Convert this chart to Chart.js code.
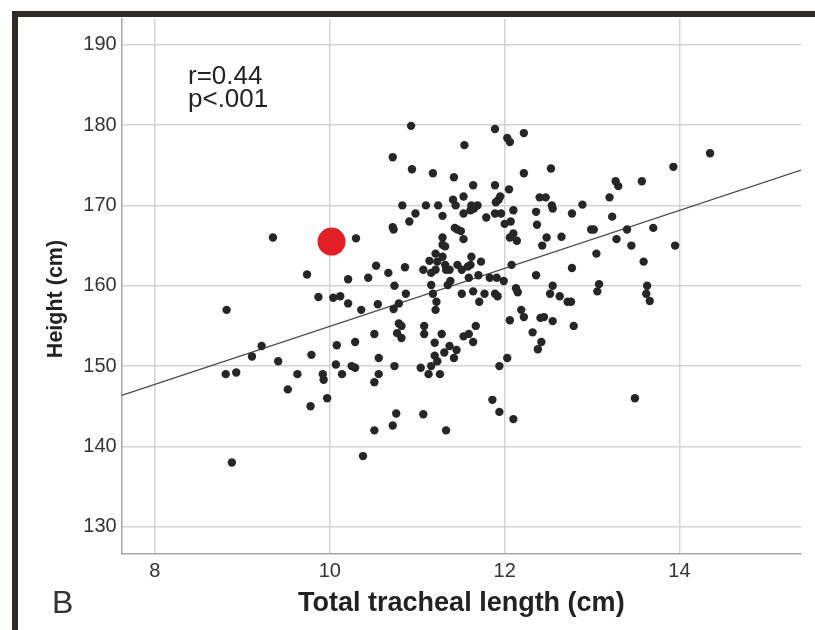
<!DOCTYPE html>
<html>
<head>
<meta charset="utf-8">
<script src="https://cdn.jsdelivr.net/npm/chart.js@4"></script>
<style>
  html, body { margin: 0; padding: 0; background: #ffffff; }
  #wrap { position: relative; width: 815px; height: 630px; overflow: hidden; }
  #frame { position: absolute; left: 12px; top: 11px; width: 900px; height: 700px;
           border-top: 6px solid #2e2a27; border-left: 6px solid #2e2a27; pointer-events: none; }
  canvas { position: absolute; left: 0; top: 0; }
</style>
</head>
<body>
<div id="wrap">
  <canvas id="c" width="815" height="630"></canvas>
  <div id="frame"></div>
</div>
<script>
// ---- data ----
const xTicks = [8, 10, 12, 14];
const yTicks = [130, 140, 150, 160, 170, 180, 190];

const trachealLength = [
  9.35, 9.74, 9.87, 10.04, 10.12, 10.21,
  8.82, 9.22, 9.11, 8.81, 8.93, 9.41, 9.79, 10.08, 10.07, 9.63, 9.92, 9.93, 10.14, 9.52, 9.97, 9.78, 8.88, 10.21,
  10.93, 11.89, 12.03, 12.06, 12.22, 11.54, 10.72, 10.94, 11.18, 11.42, 12.22, 12.53, 11.64, 11.89, 12.05,
  11.41, 11.53, 11.44, 11.93, 11.95, 11.90, 12.40, 12.47, 10.83, 11.10, 11.24, 11.62, 11.69, 11.65, 11.61,
  12.54, 12.55, 12.10, 10.98, 11.29, 11.53, 11.79, 11.89, 11.96, 12.36, 12.77, 10.91, 10.72, 10.73, 11.43,
  11.46, 11.50, 12.07, 12.00, 12.37, 10.30, 11.29, 11.53, 11.29, 11.32, 12.10, 12.06, 12.14, 12.48, 12.65,
  12.43, 11.21, 11.29, 11.62, 10.53, 10.86, 11.14, 11.23, 11.73, 10.67, 11.07, 11.16, 11.21, 11.32, 11.33,
  11.37, 11.46, 11.51, 11.58, 11.61, 12.08, 12.77, 10.44, 10.74, 11.16, 11.38, 11.35, 11.59, 11.70, 11.83,
  11.91, 11.99, 12.36, 12.55, 12.13, 12.15, 10.87, 11.18, 11.51, 11.64, 11.77, 11.89, 11.92, 12.52, 12.63,
  10.55, 10.79, 11.22, 11.71, 12.72, 12.76, 10.36, 10.73, 11.21, 12.06, 12.19, 12.22, 12.41, 12.45, 12.55,
  12.79, 10.79, 10.82, 11.08, 11.67, 10.51, 10.77, 10.82, 11.08, 11.28, 11.53, 11.59, 11.64, 12.32, 12.42,
  12.38, 10.29, 11.20, 11.37, 11.45, 11.31, 11.20, 11.23, 11.42, 10.56, 12.03, 10.25, 10.29, 10.74, 11.04,
  11.16, 11.94, 10.56, 11.13, 11.26, 10.51, 11.86, 11.94, 12.10, 10.76, 11.07, 10.72, 10.51, 11.33, 10.38,
  14.35, 13.93, 13.27, 13.30, 13.57, 13.20, 12.89, 13.23, 12.99, 13.02, 13.40, 13.70, 13.28, 13.45, 13.95,
  13.05, 13.59, 13.08, 13.06, 13.63, 13.62, 13.66, 13.49
];
const height = [
  166.0, 161.4, 158.6, 158.5, 158.7, 160.8,
  157.0, 152.5, 151.2, 149.0, 149.2, 150.6, 151.4, 152.6, 150.2, 149.0, 149.0, 148.3, 149.0, 147.1, 146.0, 145.0, 138.0, 157.8,
  179.9, 179.5, 178.4, 177.9, 179.0, 177.5, 176.0, 174.5, 174.0, 173.5, 174.0, 174.6, 172.5, 172.5, 172.0,
  170.7, 171.1, 170.0, 170.7, 171.1, 170.4, 171.0, 171.0, 170.0, 170.0, 170.0, 170.0, 170.0, 169.6, 169.4,
  170.0, 169.6, 169.4, 169.0, 168.7, 169.0, 168.5, 169.0, 169.0, 169.2, 169.0, 168.0, 167.3, 167.0, 167.2,
  167.0, 166.8, 168.0, 167.7, 167.6, 165.9, 166.0, 165.8, 165.1, 164.9, 166.5, 166.0, 165.6, 166.0, 166.1,
  165.0, 164.0, 163.6, 163.6, 162.5, 162.3, 163.1, 163.0, 163.0, 161.6, 162.0, 161.6, 162.0, 162.6, 162.0,
  162.0, 162.6, 162.0, 162.4, 162.6, 162.6, 162.2, 161.0, 160.0, 160.1, 160.6, 160.1, 161.0, 161.3, 161.0,
  161.0, 160.6, 161.3, 160.0, 159.7, 159.2, 159.0, 159.0, 159.0, 159.3, 159.0, 159.0, 158.7, 159.0, 158.7,
  157.7, 157.8, 158.0, 158.0, 158.0, 158.0, 157.0, 157.1, 157.0, 155.7, 157.0, 156.1, 156.0, 156.1, 155.6,
  155.0, 155.3, 155.0, 155.0, 155.0, 154.0, 154.1, 153.5, 154.0, 154.0, 153.7, 154.0, 153.0, 154.2, 153.0,
  152.1, 153.0, 152.9, 152.5, 152.0, 151.7, 151.3, 150.6, 151.0, 151.0, 151.0, 150.0, 149.8, 150.0, 149.8,
  150.0, 150.0, 149.0, 149.0, 149.0, 148.0, 145.8, 144.3, 143.4, 144.1, 144.0, 142.6, 142.0, 142.0, 138.8,
  176.5, 174.8, 173.0, 172.4, 173.0, 171.0, 170.1, 168.6, 167.0, 167.0, 167.0, 167.2, 165.8, 165.0, 165.0,
  164.0, 163.0, 160.2, 159.3, 160.0, 159.0, 158.1, 146.0
];
const highlightX = [10.02];
const highlightY = [165.5];
const fitX = [7.62, 15.39];
const fitY = [146.35, 174.4];
const statsText = ['r=0.44', 'p<.001'];
const panelLabel = 'B';
const xTitle = 'Total tracheal length (cm)';
const yTitle = 'Height (cm)';

// ---- build chart ----
const toPts = (xs, ys) => xs.map((x, i) => ({ x: x, y: ys[i] }));
const FONT = '"Liberation Sans", Arial, sans-serif';

const annot = {
  id: 'annot',
  afterDraw(chart) {
    const ctx = chart.ctx;
    ctx.save();
    ctx.fillStyle = '#222222';
    ctx.textAlign = 'left';
    ctx.textBaseline = 'alphabetic';
    ctx.font = '26px ' + FONT;
    ctx.fillText(statsText[0], 188, 84);
    ctx.fillText(statsText[1], 188, 107);
    ctx.font = '32px ' + FONT;
    ctx.fillStyle = '#333333';
    ctx.fillText(panelLabel, 52, 613);
    // y axis title (rotated)
    ctx.translate(56, 299);
    ctx.rotate(-Math.PI / 2);
    ctx.textAlign = 'center';
    ctx.textBaseline = 'middle';
    ctx.fillStyle = '#222222';
    ctx.font = 'bold 21.5px ' + FONT;
    ctx.fillText(yTitle, 0, 0);
    ctx.restore();
  }
};

new Chart(document.getElementById('c'), {
  type: 'scatter',
  data: {
    datasets: [
      {
        label: 'highlight',
        data: toPts(highlightX, highlightY),
        backgroundColor: '#e31e24',
        borderWidth: 0,
        pointRadius: 14,
        order: 0
      },
      {
        label: 'subjects',
        data: toPts(trachealLength, height),
        backgroundColor: '#262626',
        borderWidth: 0,
        pointRadius: 4.2,
        order: 1
      },
      {
        type: 'line',
        label: 'fit',
        data: toPts(fitX, fitY),
        borderColor: '#4a4a4a',
        borderWidth: 1.2,
        pointRadius: 0,
        fill: false,
        order: 2
      }
    ]
  },
  options: {
    responsive: false,
    animation: false,
    devicePixelRatio: 1,
    layout: { padding: { top: 19, right: 7.5, left: 0, bottom: 0 } },
    plugins: { legend: { display: false }, tooltip: { enabled: false } },
    scales: {
      x: {
        type: 'linear',
        min: fitX[0],
        max: fitX[1],
        afterBuildTicks: (s) => { s.ticks = xTicks.map(v => ({ value: v })); },
        afterFit: (s) => { s.height = 76.7; },
        grid: { color: '#d3d3d3', lineWidth: 1.5, drawTicks: false },
        border: { display: true, color: '#a6a6a6', width: 1.5 },
        ticks: { color: '#333333', font: { family: FONT, size: 20 }, padding: 6 },
        title: { display: true, text: xTitle, color: '#222222',
                 font: { family: FONT, size: 27, weight: 'bold' }, padding: { top: 0, bottom: 10 } }
      },
      y: {
        type: 'linear',
        min: 126.7,
        max: 193.2,
        afterBuildTicks: (s) => { s.ticks = yTicks.map(v => ({ value: v })); },
        afterFit: (s) => { s.width = 121.7; },
        grid: { color: '#d3d3d3', lineWidth: 1.5, drawTicks: false },
        border: { display: true, color: '#a6a6a6', width: 1.5 },
        ticks: { color: '#333333', font: { family: FONT, size: 20 }, padding: 5 },
        title: { display: false, text: yTitle }
      }
    }
  },
  plugins: [annot]
});
</script>
</body>
</html>
